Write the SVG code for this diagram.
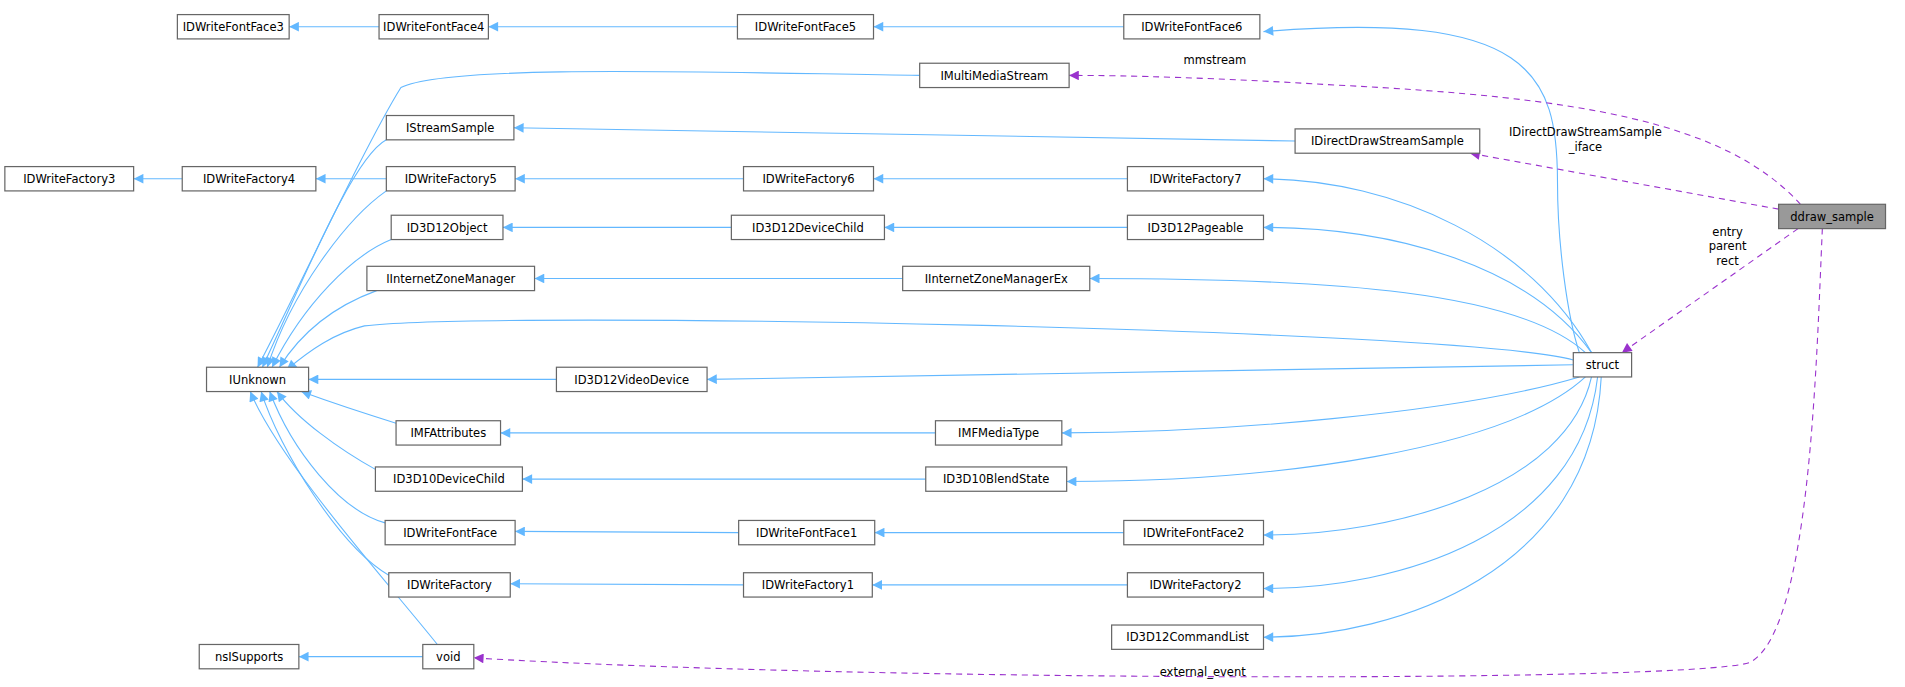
<svg xmlns="http://www.w3.org/2000/svg" width="1905" height="687" viewBox="0 0 1905 687">
<style>
.n rect{fill:#fff;stroke:#666;stroke-width:1}
text{font-family:"DejaVu Sans",sans-serif;font-size:9.5px;fill:#000;text-anchor:middle}
.e path{fill:none;stroke:#63b8ff;stroke-width:0.9}
.p path{fill:none;stroke:#9a32cd;stroke-width:0.9;stroke-dasharray:5,4}
</style>
<defs>
<marker id="b" viewBox="0 0 10 10" refX="10" refY="5" markerWidth="10" markerHeight="8" markerUnits="userSpaceOnUse" orient="auto"><path d="M0,0L10,5L0,10z" fill="#63b8ff"/></marker>
<marker id="pu" viewBox="0 0 10 10" refX="10" refY="5" markerWidth="10" markerHeight="8" markerUnits="userSpaceOnUse" orient="auto"><path d="M0,0L10,5L0,10z" fill="#9a32cd"/></marker>
</defs>
<rect width="1905" height="687" fill="#fff"/>
<g transform="scale(1.2149,1.216)">
<g id="edges" class="e">
<path d="M312,22L238,22" marker-end="url(#b)"/>
<path d="M607,22L402,22" marker-end="url(#b)"/>
<path d="M925,22L719,22" marker-end="url(#b)"/>
<path d="M1300,290C1290,260 1282,200 1282,150C1282,60 1260,8 1040,26" marker-end="url(#b)"/>
<path d="M757,62C600,60 370,52 330,72C300,120 240,250 212,302" marker-end="url(#b)"/>
<path d="M318,115C290,130 250,230 216,302" marker-end="url(#b)"/>
<path d="M1066,116L423,105" marker-end="url(#b)"/>
<path d="M150,147L110,147" marker-end="url(#b)"/>
<path d="M318,147L260,147" marker-end="url(#b)"/>
<path d="M612,147L424,147" marker-end="url(#b)"/>
<path d="M928,147L719,147" marker-end="url(#b)"/>
<path d="M1310,290C1260,200 1150,148 1040,147" marker-end="url(#b)"/>
<path d="M318,157C285,180 240,240 220,302" marker-end="url(#b)"/>
<path d="M322,197C290,210 250,250 224,302" marker-end="url(#b)"/>
<path d="M602,187L414,187" marker-end="url(#b)"/>
<path d="M928,187L728,187" marker-end="url(#b)"/>
<path d="M1310,290C1260,220 1150,187 1040,187" marker-end="url(#b)"/>
<path d="M310,239C280,250 250,270 230,302" marker-end="url(#b)"/>
<path d="M743,229L440,229" marker-end="url(#b)"/>
<path d="M1305,290C1250,240 1100,229 897,229" marker-end="url(#b)"/>
<path d="M1295,296C1200,270 400,255 300,268C275,274 255,288 236,304" marker-end="url(#b)"/>
<path d="M458,312L254,312" marker-end="url(#b)"/>
<path d="M1295,300L582,312" marker-end="url(#b)"/>
<path d="M326,348C300,340 270,330 248,322" marker-end="url(#b)"/>
<path d="M770,356L412,356" marker-end="url(#b)"/>
<path d="M1300,310C1200,340 1000,356 874,356" marker-end="url(#b)"/>
<path d="M309,386C280,370 245,345 228,322" marker-end="url(#b)"/>
<path d="M762,394L430,394" marker-end="url(#b)"/>
<path d="M1305,310C1240,370 1050,396 878,396" marker-end="url(#b)"/>
<path d="M317,430C280,420 240,370 222,322" marker-end="url(#b)"/>
<path d="M608,438L424,437" marker-end="url(#b)"/>
<path d="M925,438L720,438" marker-end="url(#b)"/>
<path d="M1310,310C1290,400 1150,440 1040,440" marker-end="url(#b)"/>
<path d="M320,473C280,450 230,370 215,322" marker-end="url(#b)"/>
<path d="M612,481L420,480" marker-end="url(#b)"/>
<path d="M928,481L718,481" marker-end="url(#b)"/>
<path d="M1315,310C1300,440 1150,484 1040,484" marker-end="url(#b)"/>
<path d="M1318,310C1310,470 1150,524 1040,524" marker-end="url(#b)"/>
<path d="M360,530C320,480 230,380 206,322" marker-end="url(#b)"/>
<path d="M348,540L246,540" marker-end="url(#b)"/>
</g>
<g id="members" class="p">
<path d="M1482,168C1420,100 1300,80 1100,70C1000,64 930,62 880,62" marker-end="url(#pu)"/>
<path d="M1464,172L1210,126" marker-end="url(#pu)"/>
<path d="M1480,188L1335,290" marker-end="url(#pu)"/>
<path d="M1500,188C1495,300 1490,520 1440,545C1380,562 700,560 390,541" marker-end="url(#pu)"/>
<text x="1000" y="53">mmstream</text>
<text x="1305" y="112">IDirectDrawStreamSample</text>
<text x="1305" y="124">_iface</text>
<text x="1422" y="194">entry</text>
<text x="1422" y="206">parent</text>
<text x="1422" y="218">rect</text>
<text x="990" y="556">external_event</text>
</g>
<g class="n">
<g id="IDWriteFontFace3"><rect x="146" y="12" width="92" height="20"/><text x="192" y="25.5">IDWriteFontFace3</text></g>
<g id="IDWriteFontFace4"><rect x="312" y="12" width="90" height="20"/><text x="357" y="25.5">IDWriteFontFace4</text></g>
<g id="IDWriteFontFace5"><rect x="607" y="12" width="112" height="20"/><text x="663" y="25.5">IDWriteFontFace5</text></g>
<g id="IDWriteFontFace6"><rect x="925" y="12" width="112" height="20"/><text x="981" y="25.5">IDWriteFontFace6</text></g>
<g id="IMultiMediaStream"><rect x="757" y="52" width="123" height="20"/><text x="818.5" y="65.5">IMultiMediaStream</text></g>
<g id="IStreamSample"><rect x="318" y="95" width="105" height="20"/><text x="370.5" y="108.5">IStreamSample</text></g>
<g id="IDirectDrawStreamSample"><rect x="1066" y="106" width="152" height="20"/><text x="1142" y="119.5">IDirectDrawStreamSample</text></g>
<g id="IDWriteFactory3"><rect x="4" y="137" width="106" height="20"/><text x="57" y="150.5">IDWriteFactory3</text></g>
<g id="IDWriteFactory4"><rect x="150" y="137" width="110" height="20"/><text x="205" y="150.5">IDWriteFactory4</text></g>
<g id="IDWriteFactory5"><rect x="318" y="137" width="106" height="20"/><text x="371" y="150.5">IDWriteFactory5</text></g>
<g id="IDWriteFactory6"><rect x="612" y="137" width="107" height="20"/><text x="665.5" y="150.5">IDWriteFactory6</text></g>
<g id="IDWriteFactory7"><rect x="928" y="137" width="112" height="20"/><text x="984" y="150.5">IDWriteFactory7</text></g>
<g id="ID3D12Object"><rect x="322" y="177" width="92" height="20"/><text x="368" y="190.5">ID3D12Object</text></g>
<g id="ID3D12DeviceChild"><rect x="602" y="177" width="126" height="20"/><text x="665" y="190.5">ID3D12DeviceChild</text></g>
<g id="ID3D12Pageable"><rect x="928" y="177" width="112" height="20"/><text x="984" y="190.5">ID3D12Pageable</text></g>
<g id="IInternetZoneManager"><rect x="302" y="219" width="138" height="20"/><text x="371" y="232.5">IInternetZoneManager</text></g>
<g id="IInternetZoneManagerEx"><rect x="743" y="219" width="154" height="20"/><text x="820" y="232.5">IInternetZoneManagerEx</text></g>
<g id="IUnknown"><rect x="170" y="302" width="84" height="20"/><text x="212" y="315.5">IUnknown</text></g>
<g id="ID3D12VideoDevice"><rect x="458" y="302" width="124" height="20"/><text x="520" y="315.5">ID3D12VideoDevice</text></g>
<g id="struct"><rect x="1295" y="290" width="48" height="20"/><text x="1319" y="303.5">struct</text></g>
<g id="IMFAttributes"><rect x="326" y="346" width="86" height="20"/><text x="369" y="359.5">IMFAttributes</text></g>
<g id="IMFMediaType"><rect x="770" y="346" width="104" height="20"/><text x="822" y="359.5">IMFMediaType</text></g>
<g id="ID3D10DeviceChild"><rect x="309" y="384" width="121" height="20"/><text x="369.5" y="397.5">ID3D10DeviceChild</text></g>
<g id="ID3D10BlendState"><rect x="762" y="384" width="116" height="20"/><text x="820" y="397.5">ID3D10BlendState</text></g>
<g id="IDWriteFontFace"><rect x="317" y="428" width="107" height="20"/><text x="370.5" y="441.5">IDWriteFontFace</text></g>
<g id="IDWriteFontFace1"><rect x="608" y="428" width="112" height="20"/><text x="664" y="441.5">IDWriteFontFace1</text></g>
<g id="IDWriteFontFace2"><rect x="925" y="428" width="115" height="20"/><text x="982.5" y="441.5">IDWriteFontFace2</text></g>
<g id="IDWriteFactory"><rect x="320" y="471" width="100" height="20"/><text x="370" y="484.5">IDWriteFactory</text></g>
<g id="IDWriteFactory1"><rect x="612" y="471" width="106" height="20"/><text x="665" y="484.5">IDWriteFactory1</text></g>
<g id="IDWriteFactory2"><rect x="928" y="471" width="112" height="20"/><text x="984" y="484.5">IDWriteFactory2</text></g>
<g id="ID3D12CommandList"><rect x="915" y="514" width="125" height="20"/><text x="977.5" y="527.5">ID3D12CommandList</text></g>
<g id="nsISupports"><rect x="164" y="530" width="82" height="20"/><text x="205" y="543.5">nsISupports</text></g>
<g id="void"><rect x="348" y="530" width="42" height="20"/><text x="369" y="543.5">void</text></g>
<g id="ddraw_sample"><rect x="1464" y="168" width="88" height="20" style="fill:#999"/><text x="1508" y="181.5">ddraw_sample</text></g>
</g>
</g>
</svg>
